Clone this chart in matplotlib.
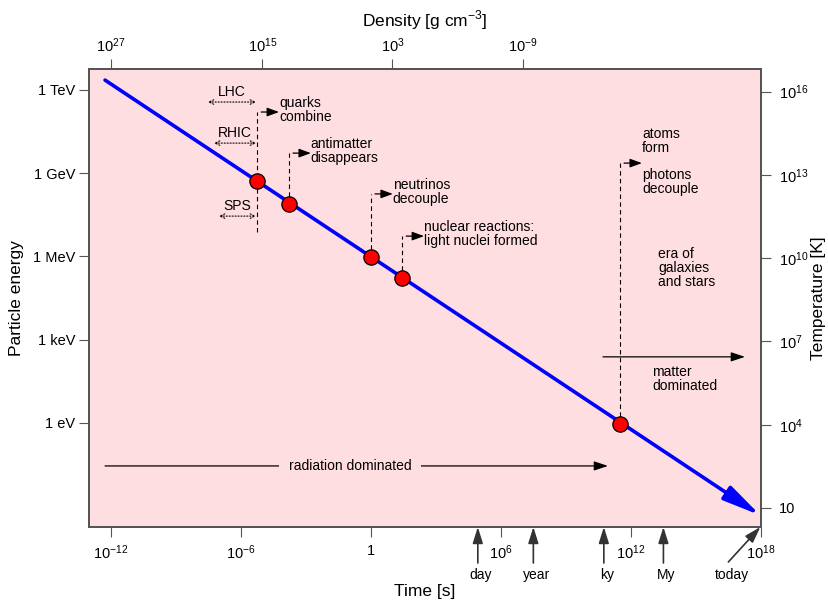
import matplotlib
matplotlib.use('Agg')
import matplotlib.pyplot as plt
from matplotlib.ticker import FixedLocator, FixedFormatter, NullLocator

plt.rcParams['font.family'] = ['Liberation Sans', 'DejaVu Sans']
NARROW = ['Liberation Sans Narrow', 'Liberation Sans', 'DejaVu Sans']

# axis ranges: time [s] and particle energy [eV]
t_lim = (1e-13, 1e18)
E_lim = (10**-3.75, 10**12.75)
K_PER_EV = 11604.5

# cooling of the universe
line_t = [10**-12.26, 10**17.97]
line_E = [10**12.35, 10**-3.33]

# milestones on the line
event_names = ['quarks\ncombine', 'antimatter\ndisappears', 'neutrinos\ndecouple',
               'nuclear reactions:\nlight nuclei formed', 'atoms\nform']
event_t = [10**-5.25, 10**-3.78, 1.0, 10**1.44, 10**11.49]
event_E = [10**8.72, 10**7.89, 10**5.98, 10**5.22, 10**-0.04]
event_top = [10**11.20, 10**9.72, 10**8.25, 10**6.73, 10**9.36]
event_bottom = [10**6.88, 10**7.89, 10**5.98, 10**5.22, 10**-0.04]
event_dy = [2, 2, 2, 2, 22]

# accelerators
coll_names = ['LHC', 'RHIC', 'SPS']
coll_t0 = [10**-7.51, 10**-7.23, 10**-7.0]
coll_t1 = 10**-5.30
coll_E = [10**11.56, 10**10.08, 10**7.45]

# eras
rad_t = [10**-12.26, 10**10.94]
rad_E = 10**-1.55
rad_text_t = 10**-0.96
mat_t = [10**10.71, 10**17.26]
mat_E = 10**2.38

# time markers below the axis
mark_names = ['day', 'year', 'ky', 'My']
mark_t = [8.64e4, 3.15e7, 10**10.75, 3.15e13]
today_t = 10**17.97

# ticks
t_ticks = [1e-12, 1e-6, 1, 1e6, 1e12, 1e18]
t_labels = ['$\\mathdefault{10^{-12}}$', '$\\mathdefault{10^{-6}}$', '1',
            '$\\mathdefault{10^{6}}$', '$\\mathdefault{10^{12}}$', '$\\mathdefault{10^{18}}$']
rho_ticks_t = [1e-12, 1e-5, 1e1, 1e7]
rho_labels = ['$\\mathdefault{10^{27}}$', '$\\mathdefault{10^{15}}$',
              '$\\mathdefault{10^{3}}$', '$\\mathdefault{10^{-9}}$']
E_ticks = [1, 1e3, 1e6, 1e9, 1e12]
E_labels = ['1 eV', '1 keV', '1 MeV', '1 GeV', '1 TeV']
T_ticks = [10, 1e4, 1e7, 1e10, 1e13, 1e16]
T_labels = ['10', '$\\mathdefault{10^{4}}$', '$\\mathdefault{10^{7}}$',
            '$\\mathdefault{10^{10}}$', '$\\mathdefault{10^{13}}$', '$\\mathdefault{10^{16}}$']

PINK = '#ffdee1'
FRAME = '#555555'
TXT = 10

fig = plt.figure(figsize=(8.29, 6.01), dpi=100)
ax = fig.add_axes([89/829, 74/601, 672/829, 458/601])
ax.set_facecolor(PINK)
ax.set_xscale('log')
ax.set_yscale('log')
ax.set_xlim(t_lim)
ax.set_ylim(E_lim)

axT = ax.twiny()
axT.set_xscale('log')
axT.set_xlim(t_lim)
axR = ax.twinx()
axR.set_yscale('log')
axR.set_ylim(E_lim[0] * K_PER_EV, E_lim[1] * K_PER_EV)

for a in (ax, axT, axR):
    for s in a.spines.values():
        s.set_color(FRAME)
        s.set_linewidth(1.2)
    a.xaxis.set_minor_locator(NullLocator())
    a.yaxis.set_minor_locator(NullLocator())
    a.tick_params(direction='out', length=7, width=0.8, color=FRAME, labelsize=10.5, pad=4)

ax.xaxis.set_major_locator(FixedLocator(t_ticks))
ax.xaxis.set_major_formatter(FixedFormatter(t_labels))
ax.yaxis.set_major_locator(FixedLocator(E_ticks))
ax.yaxis.set_major_formatter(FixedFormatter(E_labels))
ax.tick_params(axis='x', pad=5)
ax.tick_params(axis='y', pad=3)
axT.xaxis.set_major_locator(FixedLocator(rho_ticks_t))
axT.xaxis.set_major_formatter(FixedFormatter(rho_labels))
axT.tick_params(axis='x', pad=3)
axR.yaxis.set_major_locator(FixedLocator(T_ticks))
axR.yaxis.set_major_formatter(FixedFormatter(T_labels))
axR.tick_params(axis='y', pad=6)

ax.set_xlabel('Time [s]', fontsize=12.5, family=NARROW)
ax.xaxis.set_label_coords(0.5, -0.125)
ax.set_ylabel('Particle energy', fontsize=12.5, family=NARROW)
ax.yaxis.set_label_coords(-0.097, 0.5)
axT.set_xlabel('Density [g cm$^{\\mathdefault{-3}}$]', fontsize=12.5, family=NARROW)
axT.xaxis.set_label_coords(0.5, 1.094)
axR.set_ylabel('Temperature [K]', fontsize=12.5, family=NARROW)
axR.yaxis.set_label_coords(1.074, 0.5)

# the cooling line with its arrow head
ax.annotate('', xy=(line_t[1], line_E[1]), xytext=(line_t[0], line_E[0]),
            arrowprops=dict(arrowstyle='-|>,head_length=0.95,head_width=0.2',
                            color='#0000ff', lw=2.6, mutation_scale=24,
                            shrinkA=0, shrinkB=0), zorder=3)

# milestones
arrow_small = dict(arrowstyle='<|-,head_length=0.6,head_width=0.22', color='black',
                   lw=0.9, mutation_scale=12, shrinkA=0, shrinkB=3)
for name, t, top, bot, dy in zip(event_names, event_t, event_top, event_bottom, event_dy):
    ax.plot([t, t], [bot, top], color='black', lw=0.8, ls=(0, (4, 3)), zorder=2)
    ax.annotate('', xy=(t, top), xytext=(22, 0), textcoords='offset pixels',
                arrowprops=arrow_small, zorder=2)
    ax.annotate(name, xy=(t, top), xytext=(22, dy), textcoords='offset pixels',
                ha='left', va='center', fontsize=TXT, family=NARROW, linespacing=1.0)
ax.annotate('photons\ndecouple', xy=(event_t[4], event_top[4]), xytext=(22, -19),
            textcoords='offset pixels', ha='left', va='center', fontsize=TXT,
            family=NARROW, linespacing=1.0)

ax.plot(event_t, event_E, 'o', ms=11, mfc='#ff0000', mec='black', mew=0.9, zorder=5)

# accelerators
for name, t0, E in zip(coll_names, coll_t0, coll_E):
    ax.annotate('', xy=(coll_t1, E), xytext=(t0, E),
                arrowprops=dict(arrowstyle='<->', color='black', lw=0.8, ls=':',
                                mutation_scale=8, shrinkA=0, shrinkB=0))
    ax.annotate(name, xy=((t0 * coll_t1) ** 0.5, E), xytext=(0, 10),
                textcoords='offset pixels', ha='center', va='center',
                fontsize=TXT, family=NARROW)

# eras
ax.annotate('', xy=(rad_t[1], rad_E), xytext=(rad_t[0], rad_E),
            arrowprops=dict(arrowstyle='-|>,head_length=0.6,head_width=0.2', color='black',
                            lw=0.9, mutation_scale=14, shrinkA=0, shrinkB=0))
ax.text(rad_text_t, rad_E, 'radiation dominated', ha='center', va='center', fontsize=TXT,
        bbox=dict(boxstyle='square,pad=0.7', fc=PINK, ec='none'))
ax.annotate('', xy=(mat_t[1], mat_E), xytext=(mat_t[0], mat_E),
            arrowprops=dict(arrowstyle='-|>,head_length=0.6,head_width=0.2', color='black',
                            lw=0.9, mutation_scale=14, shrinkA=0, shrinkB=0))
ax.annotate('matter\ndominated', xy=(mat_t[0], mat_E), xytext=(49, -22),
            textcoords='offset pixels', ha='left', va='center', fontsize=TXT,
            family=NARROW, linespacing=1.0)
ax.annotate('era of\ngalaxies\nand stars', xy=(mat_t[0], mat_E), xytext=(55, 89),
            textcoords='offset pixels', ha='left', va='center', fontsize=TXT,
            family=NARROW, linespacing=1.0)

# time markers
mark_arrow = dict(arrowstyle='-|>,head_length=0.7,head_width=0.22', color='#333333',
                  lw=1.2, mutation_scale=14, shrinkA=0, shrinkB=0)
for name, t in zip(mark_names, mark_t):
    ax.annotate('', xy=(t, 0), xycoords=('data', 'axes fraction'), xytext=(0, -36),
                textcoords='offset pixels', arrowprops=mark_arrow, annotation_clip=False)
    ax.annotate(name, xy=(t, 0), xycoords=('data', 'axes fraction'), xytext=(3, -48),
                textcoords='offset pixels', ha='center', va='center', fontsize=TXT,
                family=NARROW, annotation_clip=False)
ax.annotate('', xy=(today_t, 0), xycoords=('data', 'axes fraction'), xytext=(-32, -35),
            textcoords='offset pixels', arrowprops=mark_arrow, annotation_clip=False)
ax.annotate('today', xy=(today_t, 0), xycoords=('data', 'axes fraction'), xytext=(-28, -48),
            textcoords='offset pixels', ha='center', va='center', fontsize=TXT,
            family=NARROW, annotation_clip=False)

fig.savefig('out.png', dpi=100)
